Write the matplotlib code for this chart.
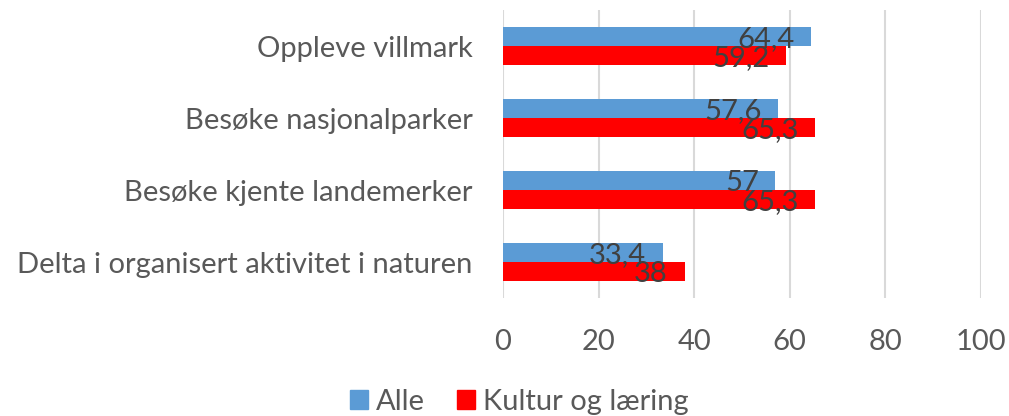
import matplotlib
matplotlib.use("Agg")
import matplotlib.pyplot as plt
import numpy as np
from matplotlib.patches import Patch

categories = ["Oppleve villmark", "Besøke nasjonalparker", "Besøke kjente landemerker",
              "Delta i organisert aktivitet i naturen"]
alle = [64.4, 57.6, 57.0, 33.4]
kultur = [59.2, 65.3, 65.3, 38.0]
alle_labels = ["64,4", "57,6", "57", "33,4"]
kultur_labels = ["59,2", "65,3", "65,3", "38"]
series_names = ["Alle", "Kultur og læring"]
xticks = [0, 20, 40, 60, 80, 100]

FONT = "Lato"
TXT = "#595959"
BLUE = "#5B9BD5"
RED = "#FF0000"

fig = plt.figure(figsize=(10.09, 4.16), dpi=100)
ax = fig.add_axes([503/1009, 1-298/416, (981-503)/1009, (298-10)/416])

y = np.arange(len(categories))
h = 0.26
ax.barh(y - h/2, alle, height=h, color=BLUE, zorder=3)
ax.barh(y + h/2, kultur, height=h, color=RED, zorder=3)

for yi, v, lab in zip(y - h/2, alle, alle_labels):
    ax.annotate(lab, (v, yi), xytext=(-12, 0), textcoords="offset points",
                ha="right", va="center_baseline", fontsize=21, color="#404040",
                family=FONT, zorder=4)
for yi, v, lab in zip(y + h/2, kultur, kultur_labels):
    ax.annotate(lab, (v, yi), xytext=(-12, 0), textcoords="offset points",
                ha="right", va="center_baseline", fontsize=21, color="#404040",
                family=FONT, zorder=4)

ax.set_xlim(0, 100)
ax.set_ylim(len(categories) - 0.5, -0.5)
ax.set_xticks(xticks)
ax.set_xticklabels([str(t) for t in xticks], fontsize=21, color=TXT, family=FONT)
ax.set_yticks(y)
ax.set_yticklabels(categories, fontsize=21, color=TXT, family=FONT)
ax.tick_params(axis="both", length=0)
ax.tick_params(axis="x", pad=22)
ax.tick_params(axis="y", pad=22)
ax.grid(axis="x", color="#D9D9D9", linewidth=1.5, zorder=0)
for s in ax.spines.values():
    s.set_visible(False)

handles = [Patch(color=BLUE), Patch(color=RED)]
fig.legend(handles, series_names, loc="center", bbox_to_anchor=(519/1009, 1-402/416),
           ncol=2, frameon=False, prop={"family": FONT, "size": 21},
           handlelength=0.62, handleheight=0.62, handletextpad=0.27, columnspacing=1.1,
           labelcolor=TXT, borderpad=0, borderaxespad=0)

fig.savefig("out.png", dpi=100)
